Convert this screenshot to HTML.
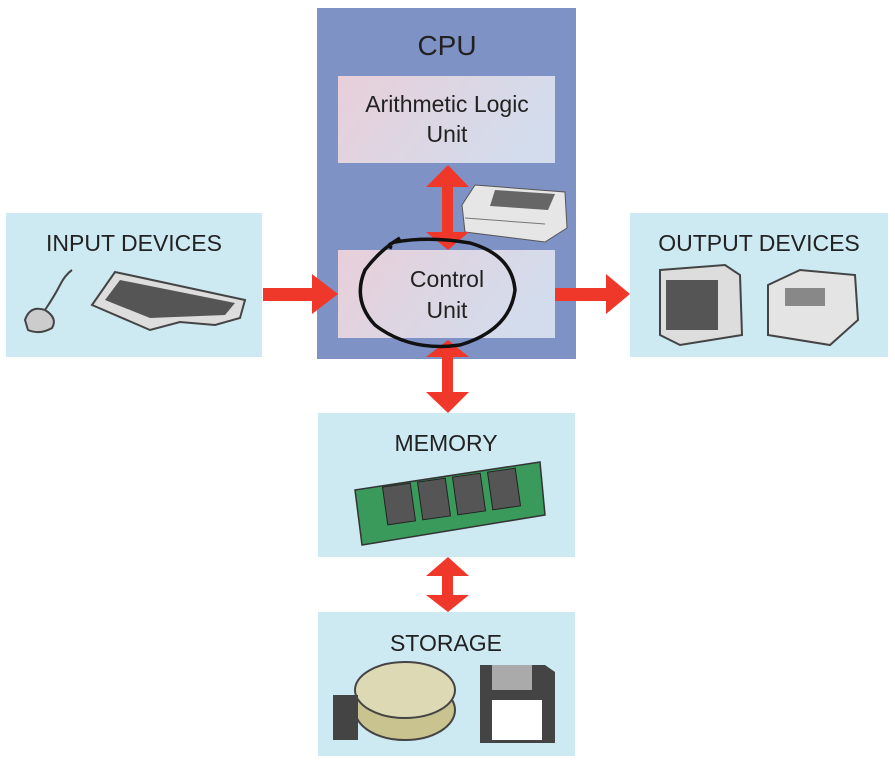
<!DOCTYPE html>
<html><head><meta charset="utf-8"><style>
body{margin:0;background:#fff;}
svg{display:block}
text{font-family:"Liberation Sans Narrow","Liberation Sans",sans-serif;fill:#222;}
</style></head><body>
<svg width="895" height="763" viewBox="0 0 895 763" xmlns="http://www.w3.org/2000/svg">
<defs>
<linearGradient id="pk" x1="0" y1="0" x2="1" y2="0.3">
<stop offset="0" stop-color="#e8cfd9"/><stop offset="1" stop-color="#d3dcec"/>
</linearGradient>
</defs>
<rect width="895" height="763" fill="#fff"/>
<rect x="317" y="8" width="259" height="351" fill="#7f92c6"/>
<text x="447" y="55" font-size="28" text-anchor="middle">CPU</text>
<rect x="338" y="76" width="217" height="87" fill="url(#pk)"/>
<text x="447" y="112" font-size="23" text-anchor="middle">Arithmetic Logic</text>
<text x="447" y="142" font-size="23" text-anchor="middle">Unit</text>
<rect x="338" y="250" width="217" height="88" fill="url(#pk)"/>
<text x="447" y="287" font-size="23" text-anchor="middle">Control</text>
<text x="447" y="318" font-size="23" text-anchor="middle">Unit</text>
<g>
<path d="M462 205 L475 185 L565 192 L567 228 L545 242 L465 232 Z" fill="#e6e6e6" stroke="#555"/>
<path d="M495 190 L555 194 L548 210 L490 206 Z" fill="#666"/>
<line x1="465" y1="218" x2="545" y2="224" stroke="#777"/>
</g>
<rect x="6" y="213" width="256" height="144" fill="#cde9f2"/>
<text x="134" y="251" font-size="23" text-anchor="middle">INPUT DEVICES</text>
<path d="M25 320 Q30 305 45 310 Q58 318 52 328 Q40 335 28 330 Z" fill="#ccc" stroke="#444" stroke-width="2"/>
<path d="M45 310 Q55 295 60 285 Q65 275 72 270" fill="none" stroke="#444" stroke-width="2"/>
<path d="M92 305 L115 272 L245 300 L240 318 L215 325 L180 322 L150 330 Z" fill="#ddd" stroke="#444" stroke-width="2"/>
<path d="M105 300 L120 280 L235 303 L225 315 L150 318 Z" fill="#555"/>
<rect x="630" y="213" width="258" height="144" fill="#cde9f2"/>
<text x="759" y="251" font-size="23" text-anchor="middle">OUTPUT DEVICES</text>
<path d="M660 270 L725 265 L740 275 L742 335 L680 345 L660 335 Z" fill="#ddd" stroke="#444" stroke-width="2"/>
<rect x="666" y="280" width="52" height="50" fill="#555"/>
<path d="M768 285 L800 270 L855 275 L858 320 L830 345 L768 335 Z" fill="#e4e4e4" stroke="#444" stroke-width="2"/>
<rect x="785" y="288" width="40" height="18" fill="#888"/>
<rect x="318" y="413" width="257" height="144" fill="#cde9f2"/>
<text x="446" y="451" font-size="23" text-anchor="middle">MEMORY</text>
<path d="M355 490 L540 462 L545 515 L362 545 Z" fill="#3a9a5c" stroke="#333" stroke-width="1.5"/>
<g fill="#555" stroke="#222">
<rect x="385" y="485" width="28" height="38" transform="rotate(-8 399 504)"/>
<rect x="420" y="480" width="28" height="38" transform="rotate(-8 434 499)"/>
<rect x="455" y="475" width="28" height="38" transform="rotate(-8 469 494)"/>
<rect x="490" y="470" width="28" height="38" transform="rotate(-8 504 489)"/>
</g>
<rect x="318" y="612" width="257" height="144" fill="#cde9f2"/>
<text x="446" y="651" font-size="23" text-anchor="middle">STORAGE</text>
<ellipse cx="405" cy="710" rx="50" ry="30" fill="#c9c38f" stroke="#444" stroke-width="2"/>
<ellipse cx="405" cy="690" rx="50" ry="28" fill="#ddd9b5" stroke="#444" stroke-width="2"/>
<rect x="333" y="695" width="25" height="45" fill="#444"/>
<path d="M480 665 L545 665 L555 672 L555 743 L480 743 Z" fill="#444"/>
<rect x="492" y="665" width="40" height="25" fill="#aaa"/>
<rect x="492" y="700" width="50" height="40" fill="#fff"/>
<g fill="#f0382a">
<rect x="263" y="288" width="50" height="13"/>
<polygon points="312,274 338,294 312,314"/>
<rect x="555" y="288" width="52" height="13"/>
<polygon points="606,274 630,294 606,314"/>
<rect x="442" y="185" width="11" height="50"/>
<polygon points="426,187 448,165 469,187"/>
<polygon points="426,232 448,250 469,232"/>
<rect x="442" y="355" width="11" height="40"/>
<polygon points="426,357 448,340 469,357"/>
<polygon points="426,392 448,413 469,392"/>
<rect x="442" y="573" width="11" height="24"/>
<polygon points="426,576 448,557 469,576"/>
<polygon points="426,595 448,612 469,595"/>
</g>
<path d="M400 238 Q380 250 365 270 Q352 300 375 325 Q410 352 460 345 Q510 330 515 290 Q512 255 470 243 Q430 236 395 242 Q385 245 392 248" fill="none" stroke="#111" stroke-width="3.5"/>
</svg>
</body></html>
